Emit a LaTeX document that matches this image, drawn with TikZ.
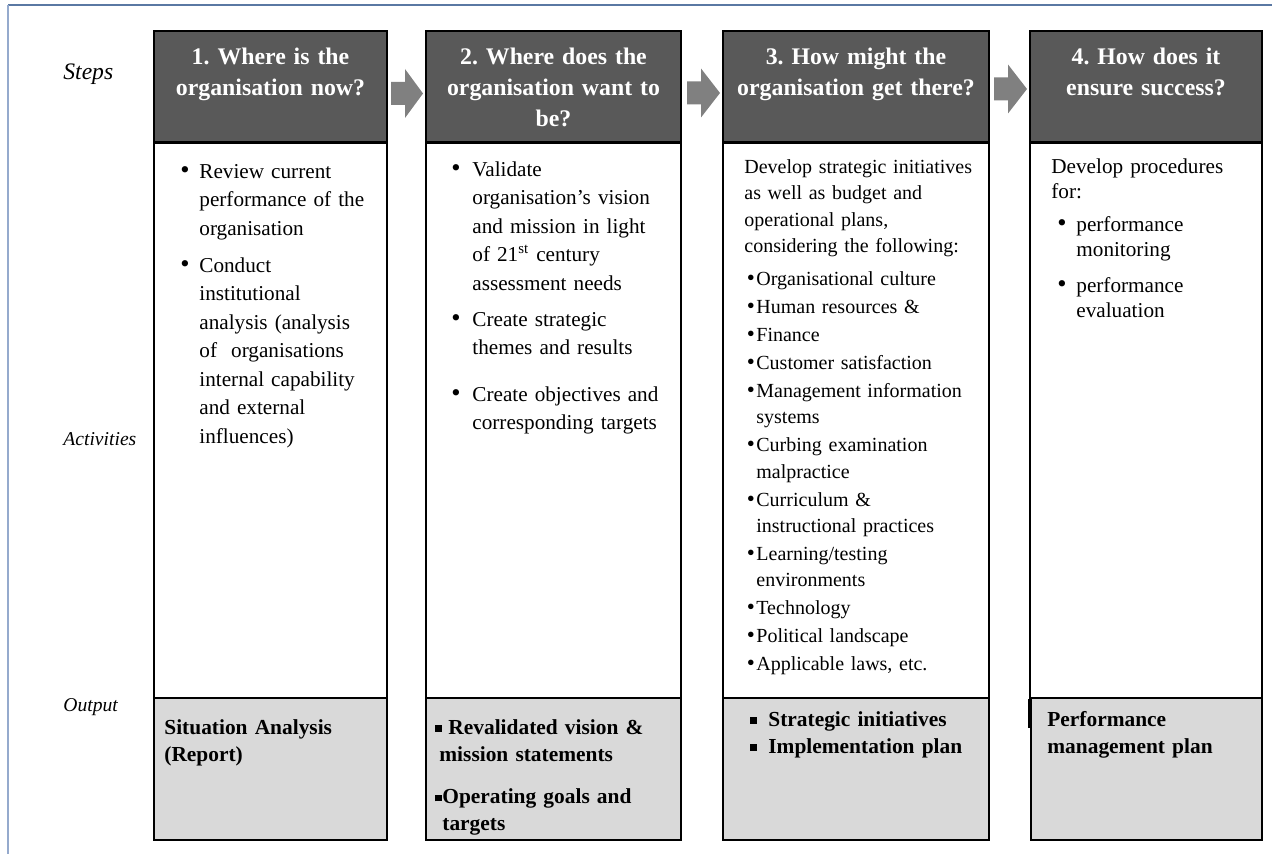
\documentclass[tikz,border=0pt]{standalone}
\usepackage{fontspec}
\usepackage{graphicx}
\setmainfont{Liberation Serif}
\usetikzlibrary{fit}
\definecolor{hdr}{HTML}{595959}
\definecolor{outfill}{HTML}{D9D9D9}
\definecolor{arr}{HTML}{808080}
\definecolor{frametop}{HTML}{5A78A3}
\definecolor{frameleft}{HTML}{95AACD}
% bullet item: #1 hang indent, #2 bullet offset, #3 text (lines split by \\)
\newcommand\bitem[3]{\noindent\makebox[#1][l]{\hspace{#2}\scalebox{1.25}{\textbullet}}\parbox[t]{\dimexpr\linewidth-#1\relax}{\raggedright\rule{0pt}{8pt}#3\strut}\par\prevdepth=\dp\strutbox}
\newcommand\sitem[3]{\noindent\makebox[#1][l]{\hspace{#2}\scalebox{1.15}{\textbullet}}\parbox[t]{\dimexpr\linewidth-#1\relax}{\raggedright\rule{0pt}{8pt}#3\strut}\par\prevdepth=\dp\strutbox}
\newcommand\sqb{\rule[1.3pt]{3.2pt}{3.2pt}}
\newcommand\blkarrow[4]{\fill[arr] (#1,#4-11.5) -- (#2,#4-11.5) -- (#2,#4-24.5) -- (#3,#4) -- (#2,#4+24.5) -- (#2,#4+11.5) -- (#1,#4+11.5) -- cycle;}
\tikzset{
  hdrbox/.style={draw=black, fill=hdr, line width=1pt, inner sep=0pt},
  actbox/.style={draw=black, fill=white, line width=1pt, inner sep=0pt},
  outbox/.style={draw=black, fill=outfill, line width=1pt, inner sep=0pt},
  hdrtext/.style={anchor=north, text=white, font=\frenchspacing\fontsize{11.9pt}{15.5pt}\selectfont\bfseries, align=center, inner sep=0pt},
  bodytext/.style={anchor=north west, inner sep=0pt, align=left, font=\frenchspacing\fontsize{10.6pt}{14.25pt}\selectfont},
  smalltext/.style={anchor=north west, inner sep=0pt, align=left, font=\frenchspacing\fontsize{10pt}{13.2pt}\selectfont},
  outtext/.style={anchor=north west, inner sep=0pt, align=left, font=\frenchspacing\fontsize{10.7pt}{13.4pt}\selectfont\bfseries},
  rowlabel/.style={anchor=base west, inner sep=0pt, font=\fontsize{9.8pt}{12pt}\selectfont\itshape}
}
\begin{document}
\begin{tikzpicture}[x=0.5pt,y=-0.5pt]
\useasboundingbox (0,0) rectangle (1275,854);
% frame
\draw[frametop, line width=1pt] (8,5) -- (1272,5);
\draw[frameleft, line width=1pt] (8,5) -- (8,854);

% row labels
\node[rowlabel, font=\fontsize{11.8pt}{14pt}\selectfont\itshape] (lsteps) at (63,80) {Steps};
\node[rowlabel] (lact) at (63,446) {Activities};
\node[rowlabel] (lout) at (63,712) {Output};

% activity boxes
\node[actbox, fit={(154,143.5) (387,698)}] (a1) {};
\node[actbox, fit={(426,143.5) (681,698)}] (a2) {};
\node[actbox, fit={(723,143.5) (989,698)}] (a3) {};
\node[actbox, fit={(1030,143.5) (1262,698)}] (a4) {};
\draw[line width=1.2pt] (a4.south west) -- ++(0,29);

% header boxes
\node[hdrbox, fit={(154,31) (387,142)}] (h1) {};
\node[hdrbox, fit={(426,31) (681,142)}] (h2) {};
\node[hdrbox, fit={(723,31) (989,142)}] (h3) {};
\node[hdrbox, fit={(1030,31) (1262,142)}] (h4) {};

\node[hdrtext, text width=112pt] (ht1) at (270.5,46) {\rule{0pt}{9pt}1. Where is the\\organisation now?};
\node[hdrtext, text width=122pt] (ht2) at (553.5,46) {\rule{0pt}{9pt}2. Where does the\\organisation want to\\be?};
\node[hdrtext, text width=128pt] (ht3) at (856,46) {\rule{0pt}{9pt}3. How might the\\organisation get there?};
\node[hdrtext, text width=112pt] (ht4) at (1146,46) {\rule{0pt}{9pt}4. How does it\\ensure success?};

% arrows between steps
\blkarrow{391}{405}{423}{93.5}
\blkarrow{687}{701}{720}{93}
\blkarrow{994}{1008}{1027}{89}

% output boxes
\node[outbox, fit={(154,698) (387,840)}] (o1) {};
\node[outbox, fit={(426,698) (681,840)}] (o2) {};
\node[outbox, fit={(723,698) (989,840)}] (o3) {};
\node[outbox, fit={(1031,698) (1262,840)}] (o4) {};

% activities text
\node[bodytext, text width=100pt] (t1) at (180,162) {%
\bitem{9.5pt}{0pt}{Review current\\performance of the\\organisation}%
\vspace{4.25pt}%
\bitem{9.5pt}{0pt}{Conduct\\institutional\\analysis (analysis\\of\ \ organisations\\internal capability\\and external\\influences)}};

\node[bodytext, text width=113pt] (t2) at (451,160) {%
\bitem{10.5pt}{0pt}{Validate\\organisation’s vision\\and mission in light\\of 21\textsuperscript{st} century\\assessment needs}%
\vspace{3.75pt}%
\bitem{10.5pt}{0pt}{Create strategic\\themes and results}%
\vspace{9pt}%
\bitem{10.5pt}{0pt}{Create objectives and\\corresponding targets}};

\node[smalltext, text width=120pt] (t3) at (744,157) {%
\noindent\rule{0pt}{8pt}Develop strategic initiatives\\as well as budget and\\operational plans,\\considering the following:\par
\vspace{3.2pt}%
\sitem{6pt}{1.2pt}{Organisational culture}\vspace{0.8pt}%
\sitem{6pt}{1.2pt}{Human resources \&}\vspace{0.8pt}%
\sitem{6pt}{1.2pt}{Finance}\vspace{0.8pt}%
\sitem{6pt}{1.2pt}{Customer satisfaction}\vspace{0.8pt}%
\sitem{6pt}{1.2pt}{Management information\\systems}\vspace{0.8pt}%
\sitem{6pt}{1.2pt}{Curbing examination\\malpractice}\vspace{0.8pt}%
\sitem{6pt}{1.2pt}{Curriculum \&\\instructional practices}\vspace{0.8pt}%
\sitem{6pt}{1.2pt}{Learning/testing\\environments}\vspace{0.8pt}%
\sitem{6pt}{1.2pt}{Technology}\vspace{0.8pt}%
\sitem{6pt}{1.2pt}{Political landscape}\vspace{0.8pt}%
\sitem{6pt}{1.2pt}{Applicable laws, etc.}};

\node[bodytext, text width=103pt, font=\frenchspacing\fontsize{10.6pt}{12.75pt}\selectfont] (t4) at (1051,157) {%
\noindent\rule{0pt}{8pt}Develop procedures\\for:\par
\vspace{3.5pt}%
\bitem{12.5pt}{3pt}{performance\\monitoring}%
\vspace{5pt}%
\bitem{12.5pt}{3pt}{performance\\evaluation}};

% output text
\node[outtext, text width=105pt] (ot1) at (164,718) {%
\noindent\rule{0pt}{8pt}Situation Analysis\\(Report)};
\node[outtext, text width=120pt] (ot2) at (435,718) {%
\noindent\makebox[2pt][l]{\sqb}\parbox[t]{115pt}{\rule{0pt}{8pt}\hspace{4.5pt}Revalidated vision \&\\mission statements\strut}\par\prevdepth=\dp\strutbox
\vspace{8pt}%
\noindent\makebox[3.5pt][l]{\sqb}\parbox[t]{113pt}{\rule{0pt}{8pt}Operating goals and\\targets\strut}\par};
\node[outtext, text width=118pt] (ot3) at (750,710) {%
\noindent\makebox[9pt][l]{\sqb}\rule{0pt}{8pt}Strategic initiatives\\\makebox[9pt][l]{\sqb}Implementation plan};
\node[outtext, text width=105pt] (ot4) at (1047,710) {%
\noindent\rule{0pt}{8pt}Performance\\management plan};
\end{tikzpicture}
\end{document}
